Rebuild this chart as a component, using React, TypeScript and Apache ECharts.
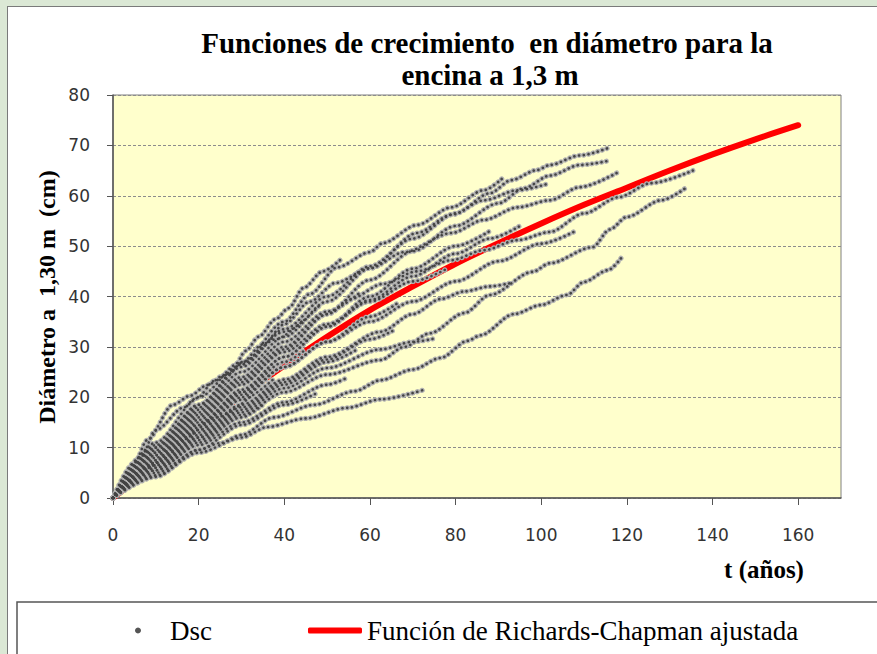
import { useEffect, useRef } from 'react';
import * as echarts from 'echarts';

// Tick values
const xTicks = [0, 20, 40, 60, 80, 100, 120, 140, 160];
const yTicks = [0, 10, 20, 30, 40, 50, 60, 70, 80];

// Fitted Richards-Chapman curve (t in years, D in cm)
const fitT = [0, 10, 20, 30, 40, 50, 60, 70, 80, 90, 100, 110, 120, 130, 140, 150, 160];
const fitD = [0, 6.8, 13.8, 20.3, 26.3, 32, 37.3, 42, 46.5, 50.6, 54.5, 58.2, 61.6, 65, 68.2, 71.2, 74];

// Individual tree diameter series (Dsc), [age, diameter]
const treeA = [[0, 0], [5, 7], [8, 11.5], [14, 18.5], [18, 20.3], [22, 22.4], [26, 24.4], [28, 25.6], [31, 29.2], [34, 32], [38, 35.5], [41, 37.7], [44.5, 41.7], [49, 45], [53, 47.2]];
const treeF = [[0, 0], [6.5, 8.2], [10, 13.5], [16.6, 18], [19.6, 19.8], [23.6, 23.2], [27, 24.6], [30, 26.8], [35, 30.5], [40, 34.5], [46, 39], [52, 42.7], [60, 45.6], [68, 48.8], [79, 52.6], [86.6, 55.2], [94.5, 57.7], [102, 59.1], [109, 61.7], [118, 64.7]];
const treeB = [[0, 0], [10, 10.5], [20, 18.5], [30, 26.5], [40, 35], [46, 40.5], [52.4, 45.8], [60, 48.8], [63, 50.6], [71, 54.2], [79, 57.7], [86.6, 61.1], [91, 63.5]];
const treeD = [[0, 0], [10, 10], [20, 18], [30, 26], [40, 33.5], [50, 40], [60, 46], [70, 51.5], [80, 56.5], [88, 60.5], [93, 63.1], [99, 65.1], [102, 66.1], [109, 68], [116, 69.6]];
const treeE = [[0, 0], [10, 9], [20, 16.5], [30, 23.5], [40, 30], [50, 36.5], [60, 43.3], [70, 49], [80, 54], [90, 58.5], [96, 61.5], [102, 64], [109, 66.1], [115.5, 66.9]];
const treeC = [[0, 0], [10, 9.5], [20, 17.5], [30, 25], [40, 32], [50, 39], [60, 45.6], [71, 52.6], [79, 56.2], [86.6, 59.1], [94.5, 61.1], [102, 62.5]];
const treeG = [[0, 0], [10, 8.5], [20, 15.5], [30, 22.5], [40, 29.5], [50, 36.5], [55.4, 39.5], [63, 42.5], [71, 45], [79, 47.2], [86.6, 49.2], [94.5, 51.2], [102, 52.8], [110, 56.5], [118, 59.7], [125.6, 62.5], [135.4, 65]];
const treeH = [[0, 0], [10, 6], [20, 11.5], [30, 16.5], [40, 21], [50, 24.5], [62.5, 27.4], [68, 30], [74, 32.7], [82, 36.7], [88, 40.3], [98, 44.9], [102, 46.6], [112, 49.8], [116, 53.3], [120, 55.8], [128, 59.1], [134, 61.7]];
const treeI = [[0, 0], [10, 5], [20, 9.5], [25, 10.9], [30, 12.5], [37.5, 16], [47, 18.5], [56.4, 21.2], [62.5, 23.4], [70, 25.5], [76.5, 27.8], [82.8, 31.2], [85.8, 32.3], [93.6, 36.5], [99.9, 38.3], [106, 40.3], [110, 42.9], [115.5, 45.2], [119, 48]];
const treeK = [[0, 0], [10, 4.5], [20, 9], [30, 12], [36, 14.1], [45, 15.8], [54.7, 17.9], [62.5, 19.6], [72.3, 21.4]];
const treeJ = [[0, 0], [10, 6.5], [20, 12], [30, 17], [40, 21.8], [50, 25.8], [62.5, 29.5], [70, 31], [75.3, 31.7]];
const treeL = [[0, 0], [10, 7], [20, 13], [30, 18.5], [40, 23.5], [50, 28], [62.5, 33], [70, 36.5], [76.5, 39.5], [82, 41], [88, 42], [93, 42.7]];
const treeM = [[0, 0], [10, 7], [20, 13.5], [30, 20], [40, 26], [50, 31], [60, 35], [70, 39], [80, 43], [90, 47], [100, 50.5], [108, 53]];
const treeN = [[0, 0], [10, 7.5], [20, 14.5], [30, 21.5], [40, 28], [50, 34], [60, 39.3], [70, 44], [80, 48.5], [88, 51.5], [95, 54]];
const treeS1 = [[0, 0], [10, 8], [20, 15], [30, 21], [40, 27], [45, 29.5]];
const treeS2 = [[0, 0], [10, 7], [20, 13.5], [30, 19.5], [38, 24]];
const treeS3 = [[0, 0], [10, 9], [20, 17], [30, 24], [40, 31], [50, 37], [58, 41]];
const treeS4 = [[0, 0], [10, 6], [20, 12], [30, 17.5], [40, 22.5], [50, 27], [57, 29.5]];
const treeS5 = [[0, 0], [10, 7.5], [20, 14.5], [30, 20.5], [40, 26], [50, 31], [60, 36], [67, 39]];
const treeS6 = [[0, 0], [10, 10], [20, 18.5], [30, 26.5], [38, 31.5], [44, 35]];
const treeS7 = [[0, 0], [10, 5.5], [20, 10.5], [30, 15], [40, 19], [50, 22.5], [55, 24]];
const treeS8 = [[0, 0], [8, 6], [16, 11.5], [24, 16], [32, 20]];
const treeS9 = [[0, 0], [10, 8.5], [20, 16], [30, 23], [40, 29], [50, 34.5], [60, 39], [70, 43], [78, 45.5]];
const treeS10 = [[0, 0], [10, 6.5], [20, 12.5], [30, 18], [40, 23], [50, 27.5], [60, 31.5], [66, 33.5]];
const treeS11 = [[0, 0], [10, 7], [20, 14], [30, 21], [40, 28], [50, 34], [60, 40], [70, 45.5], [80, 50], [88, 53]];
const treeS12 = [[0, 0], [10, 11], [20, 20], [30, 27], [40, 33], [48, 38]];
const treeS13 = [[0, 0], [10, 4.2], [20, 9.6], [30, 14.5], [40, 18.5], [48, 21]];
const treeS14 = [[0, 0], [10, 5.5], [20, 11], [30, 16], [35, 18.5]];

const trees = [treeA, treeF, treeB, treeD, treeE, treeC, treeG, treeH, treeI, treeK, treeJ, treeL, treeM, treeN,
  treeS1, treeS2, treeS3, treeS4, treeS5, treeS6, treeS7, treeS8, treeS9, treeS10, treeS11, treeS12, treeS13, treeS14];

const DSC = 'Dsc';
const FIT = 'Función de Richards-Chapman ajustada';

export default function App() {
  const ref = useRef<HTMLDivElement>(null);
  useEffect(() => {
    const chart = echarts.init(ref.current!, null, { renderer: 'svg' });
    const dotType = [0.1, 4.7];
    const halo = trees.map((t) => ({
      type: 'line', name: DSC, data: t, smooth: 0.3, smoothMonotone: 'x', symbol: 'none', silent: true, z: 3,
      lineStyle: { color: '#b0b0b0', width: 5.2, type: dotType, cap: 'round' },
    }));
    const core = trees.map((t) => ({
      type: 'line', name: DSC, data: t, smooth: 0.3, smoothMonotone: 'x', symbol: 'none', silent: true, z: 4,
      lineStyle: { color: '#444444', width: 2.6, type: dotType, cap: 'round' },
    }));
    const fit = {
      type: 'line', name: FIT, data: fitT.map((t, i) => [t, fitD[i]]), smooth: 0.3, symbol: 'none', silent: true, z: 2,
      lineStyle: { color: '#ff0000', width: 6, cap: 'round' }, itemStyle: { color: '#ff0000' },
    };
    const axisFont = { fontFamily: 'DejaVu Sans', fontSize: 17, color: '#333' };
    chart.setOption({
      animation: false,
      backgroundColor: 'transparent',
      grid: { left: 113, right: 36, top: 95, bottom: 156, show: true, backgroundColor: '#ffffcc', borderColor: '#808080', borderWidth: 1 },
      xAxis: {
        type: 'value', min: 0, max: 170, interval: 20,
        axisLine: { show: true, lineStyle: { color: '#555', width: 1.5 } },
        axisTick: { show: true, length: 7, lineStyle: { color: '#555' }, customValues: xTicks },
        axisLabel: { ...axisFont, margin: 28, customValues: xTicks },
        splitLine: { show: false },
      },
      yAxis: {
        type: 'value', min: 0, max: 80, interval: 10,
        axisLine: { show: true, lineStyle: { color: '#555', width: 1.5 } },
        axisTick: { show: true, length: 6, lineStyle: { color: '#555' }, customValues: yTicks },
        axisLabel: { ...axisFont, margin: 23, customValues: yTicks },
        splitLine: { show: true, lineStyle: { color: '#8c8c8c', type: [3, 2], width: 1 } },
      },
      legend: {
        left: 130, top: 612, itemWidth: 54, itemHeight: 6, itemGap: 96, selectedMode: false,
        textStyle: { fontFamily: 'Liberation Serif', fontSize: 27, color: '#000' },
        data: [
          { name: DSC, icon: 'circle', itemStyle: { color: '#555', borderWidth: 0 } },
          { name: FIT, icon: 'roundRect', itemStyle: { color: '#ff0000', borderWidth: 0 } },
        ],
      },
      graphic: [
        { type: 'text', x: 487, y: 43, silent: true, style: { text: 'Funciones de crecimiento  en diámetro para la', fontFamily: 'Liberation Serif', fontWeight: 'bold', fontSize: 29, fill: '#000', textAlign: 'center', textVerticalAlign: 'middle' } },
        { type: 'text', x: 490, y: 75, silent: true, style: { text: 'encina a 1,3 m', fontFamily: 'Liberation Serif', fontWeight: 'bold', fontSize: 29, fill: '#000', textAlign: 'center', textVerticalAlign: 'middle' } },
        { type: 'text', x: 47, y: 297, rotation: Math.PI / 2, silent: true, style: { text: 'Diámetro a  1,30 m  (cm)', fontFamily: 'Liberation Serif', fontWeight: 'bold', fontSize: 24, fill: '#000', textAlign: 'center', textVerticalAlign: 'middle' } },
        { type: 'text', x: 764, y: 569, silent: true, style: { text: 't (años)', fontFamily: 'Liberation Serif', fontWeight: 'bold', fontSize: 25, fill: '#000', textAlign: 'center', textVerticalAlign: 'middle' } },
        { type: 'rect', silent: true, shape: { x: 17, y: 602, width: 900, height: 100 }, style: { fill: 'none', stroke: '#555', lineWidth: 1.5 } },
      ],
      series: [fit, ...halo, ...core],
    });
    return () => chart.dispose();
  }, []);
  return (
    <div style={{ position: 'fixed', left: 0, top: 0, width: 877, height: 654, background: '#dbe8d5', overflow: 'hidden' }}>
      <div style={{ position: 'absolute', left: 7, top: 6, width: 900, height: 700, background: '#fff', border: '1.5px solid #7a7a7a', boxSizing: 'border-box' }} />
      <div ref={ref} style={{ position: 'absolute', left: 0, top: 0, width: 877, height: 654 }} />
    </div>
  );
}
